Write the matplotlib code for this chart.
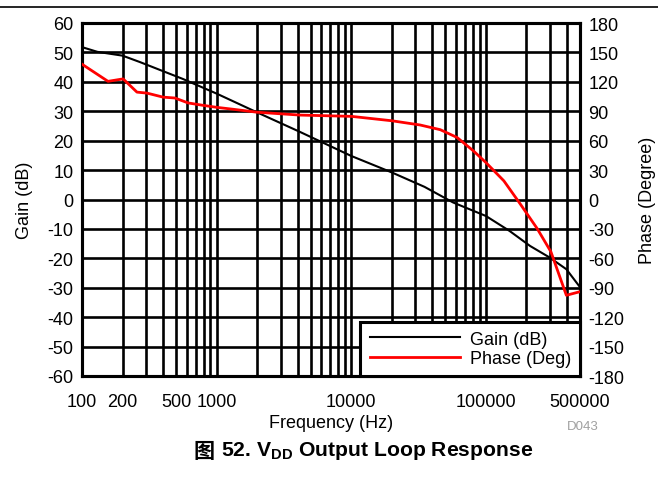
import matplotlib
matplotlib.use("Agg")
import matplotlib.pyplot as plt
from matplotlib.lines import Line2D
import numpy as np

plt.rcParams['font.family'] = ['Liberation Sans', 'Noto Sans CJK SC', 'DejaVu Sans']
plt.rcParams['mathtext.fontset'] = 'custom'
plt.rcParams['mathtext.rm'] = 'Liberation Sans'
plt.rcParams['mathtext.bf'] = 'Liberation Sans:bold'
plt.rcParams['axes.unicode_minus'] = False

# gain curve (dB)
gain_freq = [100, 130, 200, 270, 560, 1000, 2000, 4150, 10000, 20000, 35000, 57000,
             100000, 150000, 213000, 297000, 396000, 500000]
gain_db = [51.8, 50.2, 48.9, 46.7, 41.0, 36.0, 29.6, 23.0, 14.8, 9.2, 4.3, -1.0,
           -5.6, -10.7, -15.8, -19.7, -23.7, -29.8]

# phase curve (deg)
phase_freq = [100, 156, 202, 256, 304, 400, 490, 613, 794, 1000, 1330, 2000, 4150, 10000,
              20000, 32450, 45800, 61000, 80900, 100000, 136000, 179000, 240000, 304000,
              396000, 500000]
phase_deg = [138, 120.5, 123, 109.5, 108.5, 104.4, 103.5, 98.5, 96, 94, 92, 89, 86.1, 84.8,
             80.3, 76, 71.2, 63.3, 49.5, 37.7, 19, -4.1, -29.5, -53.3, -97.7, -94]

xticks = [100, 200, 500, 1000, 10000, 100000, 500000]
gain_ticks = np.arange(-60, 61, 10)
phase_ticks = np.arange(-180, 181, 30)

FS = 13

fig = plt.figure(figsize=(6.58, 4.81), dpi=100)
ax = fig.add_axes([82/658, 1 - 377/481, (580-82)/658, (377-24)/481])
ax2 = ax.twinx()

ax.set_xscale('log')
ax.set_xlim(100, 500000)
ax.set_ylim(-60, 60)
ax2.set_ylim(-180, 180)

# grid lines: every 1..9 per decade, every 10 dB
grid_x = [m * 10**d for d in range(2, 6) for m in range(1, 10) if 100 <= m * 10**d <= 500000]
for gx in grid_x:
    ax.axvline(gx, color='black', lw=1.9, zorder=1)
for gy in gain_ticks:
    ax.axhline(gy, color='black', lw=1.9, zorder=1)

l1, = ax2.plot(gain_freq, np.array(gain_db) * 3, color='black', lw=1.5, label='Gain (dB)', zorder=3)
l2, = ax2.plot(phase_freq, phase_deg, color='#ff0000', lw=2.0, label='Phase (Deg)', zorder=3)

ax.set_xticks(xticks)
ax.set_xticklabels([str(t) for t in xticks])
ax.xaxis.set_minor_locator(matplotlib.ticker.NullLocator())
ax.set_yticks(gain_ticks)
ax2.set_yticks(phase_ticks)
for a in (ax, ax2):
    a.tick_params(length=0, labelsize=FS, pad=6)
    for s in a.spines.values():
        s.set_linewidth(2.2)
        s.set_color('black')
ax.tick_params(axis='x', pad=12)

ax.set_xlabel('Frequency (Hz)', fontsize=FS, labelpad=3)
ax.set_ylabel('Gain (dB)', fontsize=FS)
ax2.set_ylabel('Phase (Degree)', fontsize=FS)
ax.yaxis.set_label_coords((33 - 82) / 498, 0.5)
ax2.yaxis.set_label_coords((639 - 82) / 498, 0.5)

leg = ax2.legend(handles=[l1, l2], loc='lower right', borderaxespad=0, fontsize=FS,
                 fancybox=False, framealpha=1, edgecolor='black', handlelength=5.0,
                 handletextpad=0.55, borderpad=0.5, labelspacing=0.12)
leg.get_frame().set_linewidth(2.2)
leg.set_zorder(10)

# rule across the top of the figure
fig.add_artist(Line2D([0, 1], [1 - 8/481, 1 - 8/481], color='black', lw=1.2))

fig.text(599/658, 1 - 427/481, 'D043', ha='right', va='center', fontsize=9.5, color='#a0a0a0')

t1 = fig.text(193/658, 1 - 458/481, '图', fontsize=15.2, fontweight='bold',
              family=['Noto Sans CJK SC'], va='baseline', ha='left')
ax.annotate(r'52. V$_{\mathbf{DD}}$ Output Loop Response', xy=(1, 0), xycoords=t1,
            xytext=(5, 0), textcoords='offset points', fontsize=15.2, fontweight='bold',
            va='bottom', ha='left', annotation_clip=False)

fig.savefig('out.png', dpi=100)
